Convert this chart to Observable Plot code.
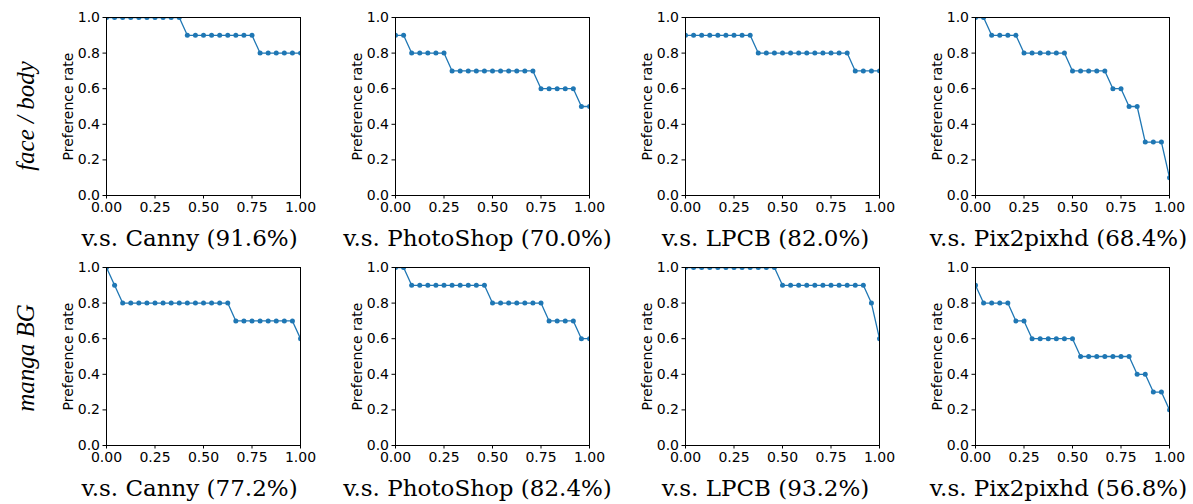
<!DOCTYPE html>
<html>
<head>
<meta charset="utf-8">
<script src="https://cdn.jsdelivr.net/npm/d3@7"></script>
<script src="https://cdn.jsdelivr.net/npm/@observablehq/plot@0.6"></script>
<style>
  html, body { margin: 0; padding: 0; background: white; }
  #wrap { position: relative; width: 1193px; height: 504px; background: white; overflow: hidden; }
  .panel { position: absolute; }
  .panel svg { font-family: "DejaVu Sans", sans-serif; font-size: 14px; overflow: visible; }
  .panel svg g[aria-label*="axis"] text { font-family: "DejaVu Sans", sans-serif; font-size: 14px; }
  .rowlabel { position: absolute; font-family: "Liberation Serif", serif; font-style: italic; font-size: 25px;
              white-space: nowrap; transform: translate(-50%, -50%) rotate(-90deg); color: black; }
</style>
</head>
<body>
<div id="wrap"></div>
<script>
// Evenly spaced sample positions along the x axis (25 samples)
const xGrid = [0, 0.0417, 0.0833, 0.125, 0.1667, 0.2083, 0.25, 0.2917, 0.3333, 0.375, 0.4167, 0.4583,
               0.5, 0.5417, 0.5833, 0.625, 0.6667, 0.7083, 0.75, 0.7917, 0.8333, 0.875, 0.9167, 0.9583, 1];

const rowNames = ["face / body", "manga BG"];
const methods = ["Canny", "PhotoShop", "LPCB", "Pix2pixhd"];
const facePct = ["91.6", "70.0", "82.0", "68.4"];
const mangaPct = ["77.2", "82.4", "93.2", "56.8"];

const faceCanny = [1,1,1,1,1,1,1,1,1,1,0.9,0.9,0.9,0.9,0.9,0.9,0.9,0.9,0.9,0.8,0.8,0.8,0.8,0.8,0.8];
const facePhotoShop = [0.9,0.9,0.8,0.8,0.8,0.8,0.8,0.7,0.7,0.7,0.7,0.7,0.7,0.7,0.7,0.7,0.7,0.7,0.6,0.6,0.6,0.6,0.6,0.5,0.5];
const faceLPCB = [0.9,0.9,0.9,0.9,0.9,0.9,0.9,0.9,0.9,0.8,0.8,0.8,0.8,0.8,0.8,0.8,0.8,0.8,0.8,0.8,0.8,0.7,0.7,0.7,0.7];
const facePix2pixhd = [1,1,0.9,0.9,0.9,0.9,0.8,0.8,0.8,0.8,0.8,0.8,0.7,0.7,0.7,0.7,0.7,0.6,0.6,0.5,0.5,0.3,0.3,0.3,0.1];

const mangaCanny = [1,0.9,0.8,0.8,0.8,0.8,0.8,0.8,0.8,0.8,0.8,0.8,0.8,0.8,0.8,0.8,0.7,0.7,0.7,0.7,0.7,0.7,0.7,0.7,0.6];
const mangaPhotoShop = [1,1,0.9,0.9,0.9,0.9,0.9,0.9,0.9,0.9,0.9,0.9,0.8,0.8,0.8,0.8,0.8,0.8,0.8,0.7,0.7,0.7,0.7,0.6,0.6];
const mangaLPCB = [1,1,1,1,1,1,1,1,1,1,1,1,0.9,0.9,0.9,0.9,0.9,0.9,0.9,0.9,0.9,0.9,0.9,0.8,0.6];
const mangaPix2pixhd = [0.9,0.8,0.8,0.8,0.8,0.7,0.7,0.6,0.6,0.6,0.6,0.6,0.6,0.5,0.5,0.5,0.5,0.5,0.5,0.5,0.4,0.4,0.3,0.3,0.2];

const xTicks = [0, 0.25, 0.5, 0.75, 1];
const yTicks = [0, 0.2, 0.4, 0.6, 0.8, 1];
const yLabel = "Preference rate";

const rowSeries = [
  [faceCanny, facePhotoShop, faceLPCB, facePix2pixhd],
  [mangaCanny, mangaPhotoShop, mangaLPCB, mangaPix2pixhd]
];
const rowPct = [facePct, mangaPct];

const wrap = document.getElementById("wrap");
const plotLefts = [106, 395, 685, 975];
const titleShift = [-14, -15, -17, -14];
const plotTops = [17, 267];
const mL = 60, mR = 15, mT = 10, mB = 62, pw = 194, ph = 178;

for (let r = 0; r < 2; r++) {
  for (let c = 0; c < 4; c++) {
    const data = rowSeries[r][c].map((v, i) => ({x: xGrid[i], y: v}));
    const title = `v.s. ${methods[c]} (${rowPct[r][c]}%)`;
    const chart = Plot.plot({
      width: mL + pw + mR,
      height: mT + ph + mB,
      marginLeft: mL, marginRight: mR, marginTop: mT, marginBottom: mB,
      style: "font-family: 'DejaVu Sans', sans-serif; font-size: 14px; color: black; background: transparent; overflow: visible;",
      x: {domain: [0, 1]},
      y: {domain: [0, 1]},
      marks: [
        Plot.line(data, {x: "x", y: "y", stroke: "#1f77b4", strokeWidth: 1.3, clip: true}),
        Plot.dot(data, {x: "x", y: "y", fill: "#1f77b4", stroke: "none", r: 2.5, clip: true}),
        Plot.frame({stroke: "black", strokeWidth: 1}),
        Plot.axisX({ticks: xTicks, tickFormat: d3.format(".2f"), tickSize: 3.5, tickPadding: 3, label: null, fontSize: 14}),
        Plot.axisY({ticks: yTicks, tickFormat: d3.format(".1f"), tickSize: 3.5, tickPadding: 3, label: null, fontSize: 14}),
        Plot.text([yLabel], {text: d => d, frameAnchor: "left", textAnchor: "middle", lineAnchor: "middle",
                             rotate: -90, dx: -38, fontSize: 14, fontFamily: "DejaVu Sans"}),
        Plot.text([title], {text: d => d, frameAnchor: "bottom", textAnchor: "middle", dx: titleShift[c], dy: 50,
                            fontSize: 23, fontFamily: "DejaVu Serif"})
      ]
    });
    const div = document.createElement("div");
    div.className = "panel";
    div.style.left = (plotLefts[c] - mL) + "px";
    div.style.top = (plotTops[r] - mT) + "px";
    div.appendChild(chart);
    wrap.appendChild(div);
  }
}

const rowCenters = [116, 358];
rowNames.forEach((name, r) => {
  const d = document.createElement("div");
  d.className = "rowlabel";
  d.textContent = name;
  d.style.left = "26px";
  d.style.top = rowCenters[r] + "px";
  wrap.appendChild(d);
});
</script>
</body>
</html>
